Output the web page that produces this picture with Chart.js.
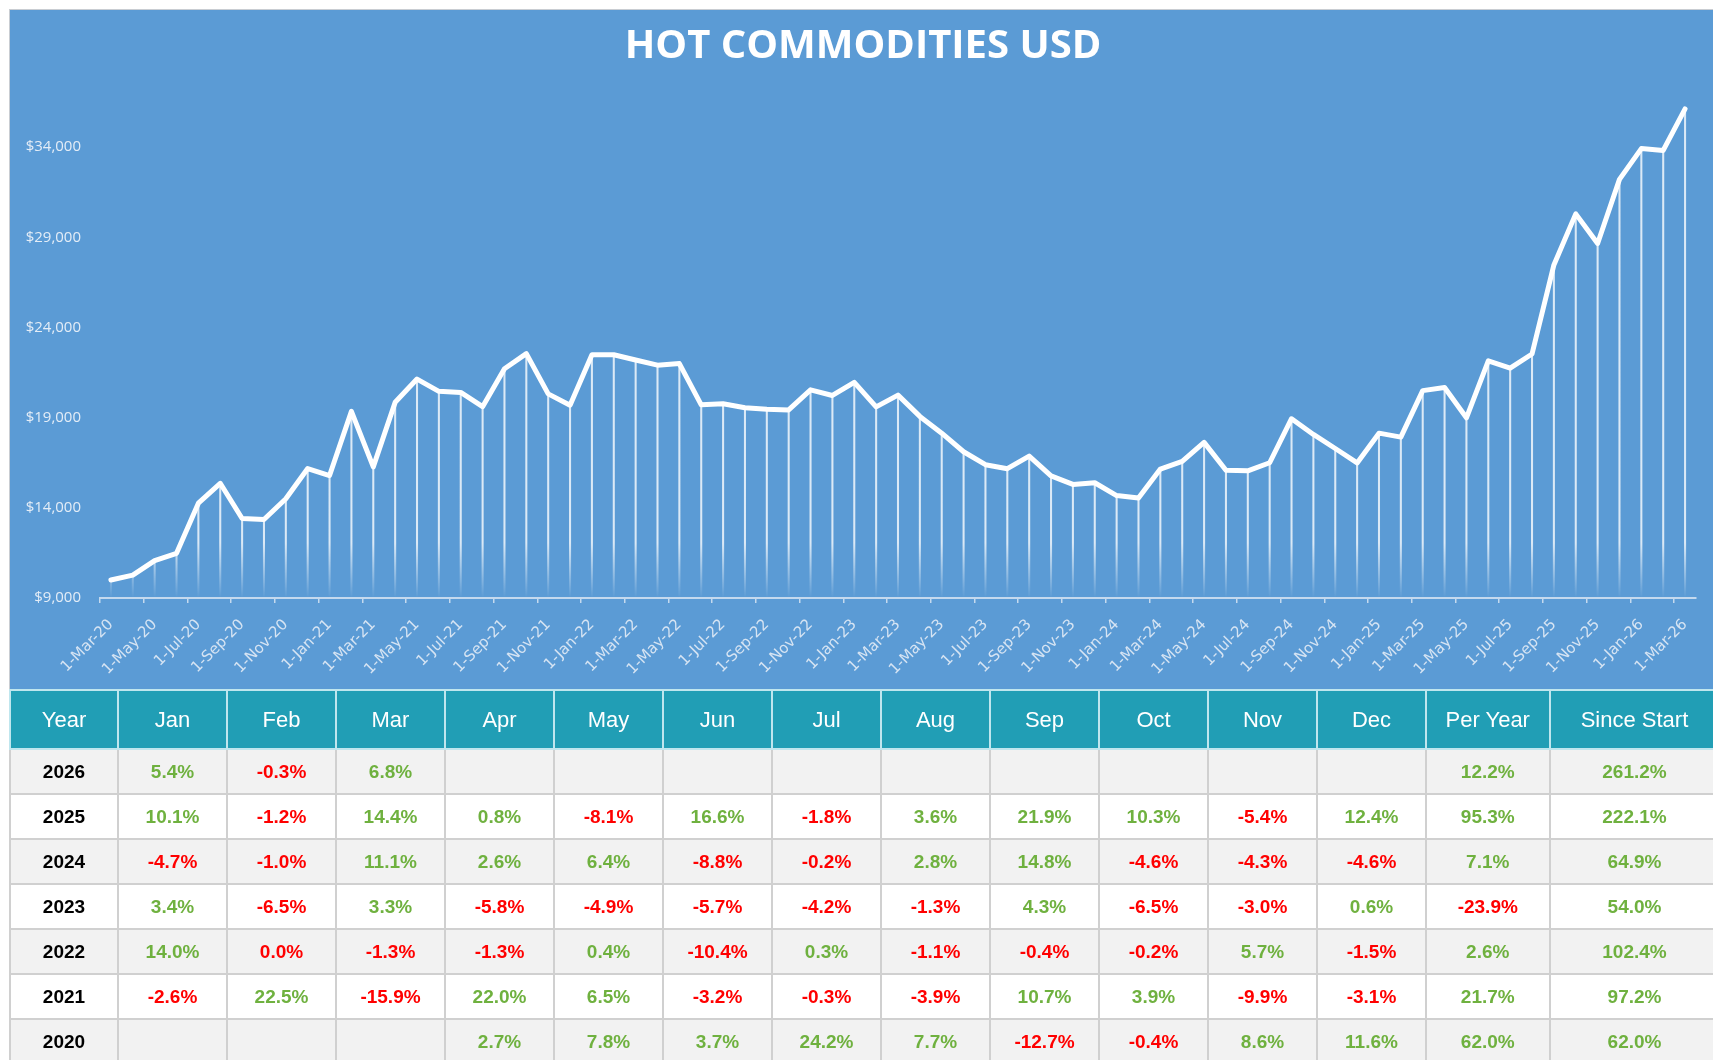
<!DOCTYPE html>
<html>
<head>
<meta charset="utf-8">
<script src="https://cdn.jsdelivr.net/npm/chart.js@4.4.1/dist/chart.umd.min.js"></script>
<style>
  html, body { margin: 0; padding: 0; background: #fff; }
  body { width: 1713px; height: 1060px; overflow: hidden; position: relative; }
  #panel {
    position: absolute; left: 9px; top: 9px; width: 1710px; height: 681px;
    background: #5B9BD5; border-top: 1px solid #c9cdd2; border-left: 1px solid #c9cdd2;
    box-sizing: border-box;
  }
  #panel canvas { display: block; }
  #returnsTable {
    position: absolute; left: 9px; top: 689px;
    border-collapse: collapse; table-layout: fixed;
    font-family: "Liberation Sans", Arial, sans-serif;
  }
  #returnsTable th {
    background: #219EB5; color: #fff; font-weight: normal; font-size: 22px;
    height: 57px; padding: 0; border: 2px solid #bfe6ee; text-align: center;
  }
  #returnsTable td {
    height: 43px; padding: 0; border: 2px solid #d0d0d0; text-align: center;
    font-size: 19px; font-weight: bold; background: #fff;
  }
  #returnsTable tr.shade td { background: #f2f2f2; }
  #returnsTable td.year { color: #000; }
  #returnsTable td.up { color: #6FB13F; }
  #returnsTable td.down { color: #FF0000; }
</style>
</head>
<body>
<div id="panel"><canvas id="chartPrice" width="1709" height="680"></canvas></div>
<table id="returnsTable"></table>
<script>
const monthNames = ['Jan', 'Feb', 'Mar', 'Apr', 'May', 'Jun', 'Jul', 'Aug', 'Sep', 'Oct', 'Nov', 'Dec'];

// monthly closes, 1-Mar-20 .. 1-Mar-26
const priceValues = [
  10000, 10270, 11070, 11480, 14260, 15360, 13410, 13350, 14500, 16180,
  15790, 19350, 16270, 19850, 21140, 20460, 20400, 19610, 21710, 22550, 20320, 19690,
  22490, 22490, 22200, 21910, 22000, 19710, 19770, 19550, 19470, 19430, 20540, 20230,
  20960, 19600, 20250, 19070, 18140, 17110, 16390, 16170, 16870, 15770, 15300, 15390,
  14680, 14540, 16150, 16570, 17630, 16080, 16050, 16500, 18940, 18070, 17290, 16490,
  18140, 17920, 20500, 20670, 18990, 22150, 21750, 22530, 27470, 30300, 28660, 32210,
  33920, 33820, 36120
];

// x categories: 1-Mar-20 ... 1-Mar-26
const priceDates = [];
for (let i = 0; i < priceValues.length; i++) {
  const m = (2 + i) % 12;
  const y = 20 + Math.floor((2 + i) / 12);
  priceDates.push('1-' + monthNames[m] + '-' + y);
}

const yTickValues = [9000, 14000, 19000, 24000, 29000, 34000];
const yAxisMin = 9000;
const yAxisMax = 38000;

// table of returns (percent), newest year first
const tableHeaders = ['Year', ...monthNames, 'Per Year', 'Since Start'];
const tableYears = [2026, 2025, 2024, 2023, 2022, 2021, 2020];
const returns2026 = [5.4, -0.3, 6.8, null, null, null, null, null, null, null, null, null];
const returns2025 = [10.1, -1.2, 14.4, 0.8, -8.1, 16.6, -1.8, 3.6, 21.9, 10.3, -5.4, 12.4];
const returns2024 = [-4.7, -1.0, 11.1, 2.6, 6.4, -8.8, -0.2, 2.8, 14.8, -4.6, -4.3, -4.6];
const returns2023 = [3.4, -6.5, 3.3, -5.8, -4.9, -5.7, -4.2, -1.3, 4.3, -6.5, -3.0, 0.6];
const returns2022 = [14.0, -0.0, -1.3, -1.3, 0.4, -10.4, 0.3, -1.1, -0.4, -0.2, 5.7, -1.5];
const returns2021 = [-2.6, 22.5, -15.9, 22.0, 6.5, -3.2, -0.3, -3.9, 10.7, 3.9, -9.9, -3.1];
const returns2020 = [null, null, null, 2.7, 7.8, 3.7, 24.2, 7.7, -12.7, -0.4, 8.6, 11.6];
const perYear = [12.2, 95.3, 7.1, -23.9, 2.6, 21.7, 62.0];
const sinceStart = [261.2, 222.1, 64.9, 54.0, 102.4, 97.2, 62.0];

const monthlyRows = [returns2026, returns2025, returns2024, returns2023, returns2022, returns2021, returns2020];

function fillTable() {
  const table = document.getElementById('returnsTable');
  const widths = [108, 109, 109, 109, 109, 109, 109, 109, 109, 109, 109, 109, 109, 123.5, 170];
  table.style.width = widths.reduce((a, b) => a + b, 0) + 'px';
  const colgroup = document.createElement('colgroup');
  widths.forEach((w) => {
    const col = document.createElement('col');
    col.style.width = w + 'px';
    colgroup.appendChild(col);
  });
  table.appendChild(colgroup);

  const head = document.createElement('tr');
  tableHeaders.forEach((h) => {
    const th = document.createElement('th');
    th.textContent = h;
    head.appendChild(th);
  });
  table.appendChild(head);

  function addCell(tr, v) {
    const td = document.createElement('td');
    if (v !== null) {
      td.textContent = v.toFixed(1) + '%';
      td.className = (v < 0 || Object.is(v, -0)) ? 'down' : 'up';
    }
    tr.appendChild(td);
  }

  tableYears.forEach((year, r) => {
    const tr = document.createElement('tr');
    if (r % 2 === 0) tr.className = 'shade';
    const yc = document.createElement('td');
    yc.className = 'year';
    yc.textContent = year;
    tr.appendChild(yc);
    monthlyRows[r].forEach((v) => addCell(tr, v));
    addCell(tr, perYear[r]);
    addCell(tr, sinceStart[r]);
    table.appendChild(tr);
  });
}
fillTable();

function dropLineFill(ctx) {
  const chart = ctx.chart;
  const area = chart.chartArea;
  if (!area) return 'rgba(255,255,255,0.78)';
  const g = chart.ctx.createLinearGradient(0, area.bottom, 0, area.bottom - 55);
  g.addColorStop(0, 'rgba(255,255,255,0)');
  g.addColorStop(1, 'rgba(255,255,255,0.78)');
  return g;
}

const axisColor = '#c4d9ee';

new Chart(document.getElementById('chartPrice'), {
  type: 'bar',
  data: {
    labels: priceDates,
    datasets: [
      {
        type: 'line',
        data: priceValues,
        borderColor: '#ffffff',
        borderWidth: 5,
        borderJoinStyle: 'round',
        borderCapStyle: 'round',
        pointRadius: 0,
        tension: 0,
        order: 0
      },
      {
        type: 'bar',
        data: priceValues,
        backgroundColor: dropLineFill,
        borderWidth: 0,
        barThickness: 1.4,
        order: 1
      }
    ]
  },
  options: {
    responsive: false,
    animation: false,
    layout: { padding: { left: 0, right: 3, top: 0, bottom: 0 } },
    plugins: {
      legend: { display: false },
      tooltip: { enabled: false },
      title: {
        display: true,
        text: 'HOT COMMODITIES USD',
        color: '#ffffff',
        font: { family: 'Open Sans', size: 40, weight: 'bold' },
        padding: { top: 13, bottom: 4 }
      }
    },
    scales: {
      x: {
        offset: true,
        grid: {
          offset: true,
          drawOnChartArea: false,
          drawTicks: true,
          tickLength: 5,
          lineWidth: 1.5,
          tickColor: (c) => (c.index % 2 === 0 ? axisColor : 'rgba(0,0,0,0)')
        },
        border: { display: true, color: axisColor, width: 2 },
        ticks: {
          autoSkip: false,
          minRotation: 45,
          maxRotation: 45,
          padding: 13,
          color: '#d6e4f3',
          font: { family: 'DejaVu Sans', size: 15 },
          callback: function (value, index) {
            return index % 2 === 0 ? this.getLabelForValue(value) : '';
          }
        },
        afterFit: (s) => { s.height = 92; }
      },
      y: {
        min: yAxisMin,
        max: yAxisMax,
        grid: { display: false, drawTicks: false },
        border: { display: false },
        ticks: {
          padding: 19,
          color: '#e4edf7',
          font: { family: 'Open Sans', size: 15 },
          callback: (v) => '$' + v.toLocaleString('en-US')
        },
        afterBuildTicks: (s) => { s.ticks = yTickValues.map((v) => ({ value: v })); },
        afterFit: (s) => { s.width = 90; }
      },
      // empty spacer on the right so the title centres on the whole panel
      yRight: {
        axis: 'y',
        position: 'right',
        grid: { display: false, drawTicks: false },
        border: { display: false },
        ticks: { display: false },
        afterFit: (s) => { s.width = 20; }
      }
    }
  }
});
</script>
</body>
</html>
